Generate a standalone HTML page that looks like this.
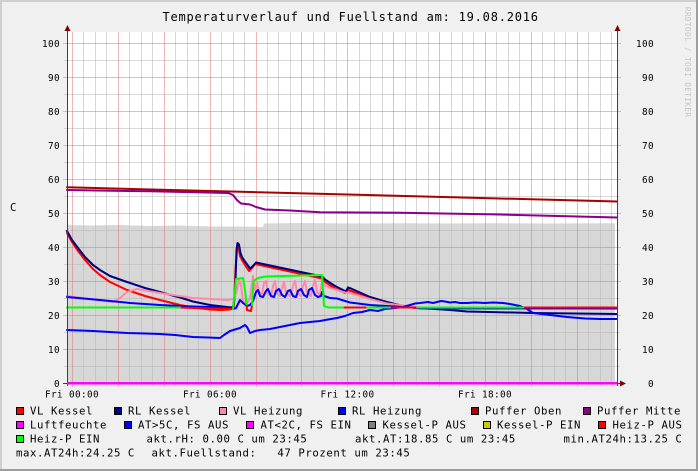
<!DOCTYPE html>
<html><head><meta charset="utf-8"><style>
html,body{margin:0;padding:0;background:#f0f0f0;}
svg{display:block;}
text{font-family:"DejaVu Sans Mono","Liberation Mono",monospace;fill:#000;white-space:pre;}
.t{font-size:12px;letter-spacing:0.78px;}
.a{font-size:9.33px;letter-spacing:0.38px;}
.l{font-size:10.67px;letter-spacing:0.58px;}
.w{font-size:7.5px;letter-spacing:0.5px;fill:#c4c4c4;}
</style></head><body>
<svg width="698" height="471" viewBox="0 0 698 471" xmlns="http://www.w3.org/2000/svg">
<rect x="0" y="0" width="698" height="471" fill="#f0f0f0"/>
<rect x="0" y="0" width="698" height="2" fill="#cfcfcf"/>
<rect x="0" y="0" width="2" height="471" fill="#cfcfcf"/>
<rect x="0" y="469" width="698" height="2" fill="#9e9e9e"/>
<rect x="696" y="0" width="2" height="471" fill="#9e9e9e"/>

<text class="t" x="162.5" y="21">Temperaturverlauf und Fuellstand am: 19.08.2016</text>
<text class="w" transform="translate(685,7) rotate(90)">RRDTOOL / TOBI OETIKER</text>

<!-- canvas -->
<rect x="67" y="32" width="550" height="351" fill="#ffffff"/>
<!-- Fuellstand area -->
<path d="M67,383 L67,225 L90,225.5 L120,225 L150,226 L180,225.5 L210,226.5 L240,226.5 L263,227 L264,223.5 L300,223 L350,223.5 L400,223.3 L450,223.5 L500,223.3 L550,223.5 L615,223.3 L615,383 Z" fill="#d7d7d7"/>

<!-- minor grid -->
<g stroke="#b8b8b8" stroke-opacity="0.55" stroke-width="1">
<path d="M64,366.5H620M64,332.5H620M64,298.5H620M64,264.5H620M64,230.5H620M64,196.5H620M64,162.5H620M64,128.5H620M64,94.5H620M64,60.5H620"/>
<path d="M83.5,32V386M95.5,32V386M106.5,32V386M129.5,32V386M141.5,32V386M152.5,32V386M175.5,32V386M187.5,32V386M198.5,32V386M221.5,32V386M233.5,32V386M244.5,32V386M267.5,32V386M278.5,32V386M290.5,32V386M313.5,32V386M324.5,32V386M336.5,32V386M359.5,32V386M370.5,32V386M382.5,32V386M405.5,32V386M416.5,32V386M428.5,32V386M451.5,32V386M462.5,32V386M473.5,32V386M496.5,32V386M508.5,32V386M519.5,32V386M542.5,32V386M554.5,32V386M565.5,32V386M588.5,32V386M600.5,32V386M611.5,32V386"/>
</g>
<!-- major grid -->
<g stroke="#e07070" stroke-opacity="0.5" stroke-width="1">
<path d="M63,349.5H621M63,315.5H621M63,281.5H621M63,247.5H621M63,213.5H621M63,179.5H621M63,145.5H621M63,111.5H621M63,77.5H621M63,43.5H621"/>
<path d="M72.5,32V387M118.5,32V387M164.5,32V387M210.5,32V387M256.5,32V387M301.5,32V387M347.5,32V387M393.5,32V387M439.5,32V387M485.5,32V387M531.5,32V387M577.5,32V387"/>
</g>

<g fill="none" stroke-width="2" stroke-linejoin="round" stroke-linecap="round">
<!-- VL Kessel -->
<path stroke="#ff0000" d="M67,233 L72,242 L78,251 L85,260 L93,269 L100,275 L110,282 L127,290 L145,296 L160,300 L180,305 L193,307.5 L210,309.5 L220,310 L230,309.5 L234,306 L235.5,270 L237,250 L238.5,247 L240,256 L242,260 L245,265 L249,271 L252,268 L255,264 L322,278.5 L325,282 L335,288.5 L345,293 L348,290 L351,291 L370,297.5 L387,302.5 L403,306.5 L420,308.5 L617,308.5"/>
<!-- RL Kessel -->
<path stroke="#000080" d="M67,231 L72,240 L78,248 L85,257 L93,265 L100,270 L110,276 L127,282 L145,288 L160,292 L180,297.5 L193,301.5 L210,305 L227,307 L233,307.5 L235,295 L236.5,250 L237.5,243 L239,244.5 L240.5,253 L242,257 L245,261.5 L250,268.5 L253,266 L256,262.5 L322,276.5 L325,279.5 L335,286 L346,291.5 L348,287.5 L351,288.5 L370,297 L387,302 L403,306 L420,308 L450,310 L467,311.5 L533,313 L617,314"/>
<!-- VL Heizung -->
<path stroke="#ff88aa" d="M67,296 L90,299 L113,302 L120,298 L127,292 L137,289 L160,293 L193,298 L227,300 L234,299 L237,290 L239,279 L241,285 L243,302 L247,303 L250,298 L253,276 L255,290 L257,282 L259,292 L262,294 L264,283 L266,281 L268,294 L271,296 L273,286 L275,281 L277,293 L280,296 L282,288 L284,282 L286,293 L290,296 L293,286 L295,281 L297,292 L301,296 L303,286 L305,281 L307,292 L311,296 L313,286 L315,280 L317,292 L320,295 L321,288 L322,281 L324,285 L330,288 L345,292.5 L350,293 L370,299 L387,303.5 L403,305.5 L420,307.5 L617,308.5"/>
<!-- RL Heizung -->
<path stroke="#0000ff" d="M67,297 L100,300 L130,303 L160,305 L193,306.5 L210,307 L227,308 L233,309 L236,308 L240,300 L243,303 L247,306 L250,305 L253,301 L256,292 L258,290 L260,296 L263,297 L266,291 L268,289 L271,296 L274,297 L276,291 L279,289 L282,295 L285,297 L288,291 L290,290 L293,296 L296,297 L298,291 L301,289 L304,295 L307,297 L309,290 L312,288 L315,295 L318,297 L321,296 L322,292 L324,296 L330,298 L337,298.5 L350,302.5 L370,305 L403,307 L420,308 L617,308.5"/>
<!-- Puffer Oben -->
<path stroke="#aa0000" d="M67,187.3 L617,201.5"/>
<!-- Puffer Mitte -->
<path stroke="#880088" d="M67,190 L150,191.3 L228,193 L233,195 L237,200 L241,203.5 L250,204.5 L256,207 L265,209.5 L290,210.5 L320,212.3 L400,212.7 L500,214.5 L617,217.5"/>
<!-- AT -->
<path stroke="#0000ff" d="M67,330 L80,330.5 L93,331 L110,332 L127,333 L145,333.5 L160,334 L175,335 L193,337 L208,337.5 L220,338 L224,335 L230,331 L240,328 L245,325 L247,327 L250,333 L255,331 L260,330 L270,329 L280,327 L290,325 L300,323 L310,322 L320,321 L328,319.5 L337,318 L345,316 L353,313 L362,312 L370,310 L378,311 L385,309 L395,308 L403,307 L410,305 L415,303.5 L420,303 L428,302 L433,303 L437,302 L441,301 L445,301.5 L450,302.5 L455,302 L460,303 L467,303 L475,302.5 L485,303 L493,302.5 L503,303 L510,304 L520,306 L527,309 L533,313 L550,315 L567,317 L585,318.5 L600,319 L617,319"/>
<!-- Heiz-P AUS (red) -->
<path stroke="#ff0000" d="M180,307.5 L210,308.5 L233,309 M246.5,304 L247,310 L251,311 L252,305 M343,307.5 L367,307.5 M390,307.5 L417,307.5 M523,307.5 L617,307.5"/>
<!-- Heiz-P EIN (green) -->
<path stroke="#00ff00" d="M67,307.5 L180,307.5 M233,309 L235,290 L236,279 L243,278 L245,290 L246.5,304 M252,305 L253.5,281 L258,278 L265,276.5 L322,275 L323,290 L324,306 L328,307.5 L343,307.5 M367,307.5 L390,307.5 M417,307.5 L523,307.5"/>
</g>
<path d="M300,276 L322,275.2" stroke="#cccc00" stroke-width="1" fill="none" stroke-opacity="0.6"/>

<!-- axes -->
<g stroke="#404040" stroke-width="1" fill="none">
<path d="M67.5,30V386M617.5,30V386M63,383.5H621"/>
</g>
<!-- Luftfeuchte / zero line -->
<path d="M67,383.2H617" stroke="#ff00ff" stroke-width="2.5"/>
<g fill="#800000">
<path d="M64.5,31 L70.5,31 L67.5,25 Z"/>
<path d="M614.5,31 L620.5,31 L617.5,25 Z"/>
<path d="M620,380.5 L620,386.5 L626,383.5 Z"/>
</g>

<!-- y labels left -->
<g class="a">
<text x="42" y="47">100</text>
<text x="48" y="81">90</text>
<text x="48" y="115">80</text>
<text x="48" y="149">70</text>
<text x="48" y="183">60</text>
<text x="48" y="217">50</text>
<text x="48" y="251">40</text>
<text x="48" y="285">30</text>
<text x="48" y="319">20</text>
<text x="48" y="353">10</text>
<text x="54" y="387">0</text>
<!-- right -->
<text x="636" y="47">100</text>
<text x="642" y="81">90</text>
<text x="642" y="115">80</text>
<text x="642" y="149">70</text>
<text x="642" y="183">60</text>
<text x="642" y="217">50</text>
<text x="642" y="251">40</text>
<text x="642" y="285">30</text>
<text x="642" y="319">20</text>
<text x="642" y="353">10</text>
<text x="648" y="387">0</text>
<!-- x labels -->
<text x="45" y="397.5">Fri 00:00</text>
<text x="183" y="397.5">Fri 06:00</text>
<text x="320.5" y="397.5">Fri 12:00</text>
<text x="458" y="397.5">Fri 18:00</text>
</g>
<text class="l" x="10" y="211">C</text>

<!-- legend boxes -->
<g stroke="#000" stroke-width="1">
<rect x="16.5" y="407.5" width="7" height="7" fill="#ff0000"/>
<rect x="114.5" y="407.5" width="7" height="7" fill="#000080"/>
<rect x="219.5" y="407.5" width="7" height="7" fill="#ff88aa"/>
<rect x="338.5" y="407.5" width="7" height="7" fill="#0000ff"/>
<rect x="471.5" y="407.5" width="7" height="7" fill="#aa0000"/>
<rect x="583.5" y="407.5" width="7" height="7" fill="#880088"/>
<rect x="16.5" y="421.5" width="7" height="7" fill="#ff00ff"/>
<rect x="124.5" y="421.5" width="7" height="7" fill="#0000ff"/>
<rect x="246.5" y="421.5" width="7" height="7" fill="#ff00ff"/>
<rect x="368.5" y="421.5" width="7" height="7" fill="#808080"/>
<rect x="483.5" y="421.5" width="7" height="7" fill="#cccc00"/>
<rect x="598.5" y="421.5" width="7" height="7" fill="#ff0000"/>
<rect x="16.5" y="435.5" width="7" height="7" fill="#00ff00"/>
</g>
<g class="l">
<text x="30" y="414.5">VL Kessel</text>
<text x="128" y="414.5">RL Kessel</text>
<text x="233" y="414.5">VL Heizung</text>
<text x="352" y="414.5">RL Heizung</text>
<text x="485" y="414.5">Puffer Oben</text>
<text x="597" y="414.5">Puffer Mitte</text>
<text x="30" y="428.5">Luftfeuchte</text>
<text x="138" y="428.5">AT&gt;5C, FS AUS</text>
<text x="260.5" y="428.5">AT&lt;2C, FS EIN</text>
<text x="382.5" y="428.5">Kessel-P AUS</text>
<text x="497" y="428.5">Kessel-P EIN</text>
<text x="612.5" y="428.5">Heiz-P AUS</text>
<text x="30" y="442.5">Heiz-P EIN</text>
<text x="146.5" y="442.5">akt.rH: 0.00 C um 23:45</text>
<text x="355" y="442.5">akt.AT:18.85 C um 23:45</text>
<text x="563.5" y="442.5">min.AT24h:13.25 C</text>
<text x="16" y="456.5">max.AT24h:24.25 C</text>
<text x="151.5" y="456.5">akt.Fuellstand:   47 Prozent um 23:45</text>
</g>
</svg>
</body></html>
